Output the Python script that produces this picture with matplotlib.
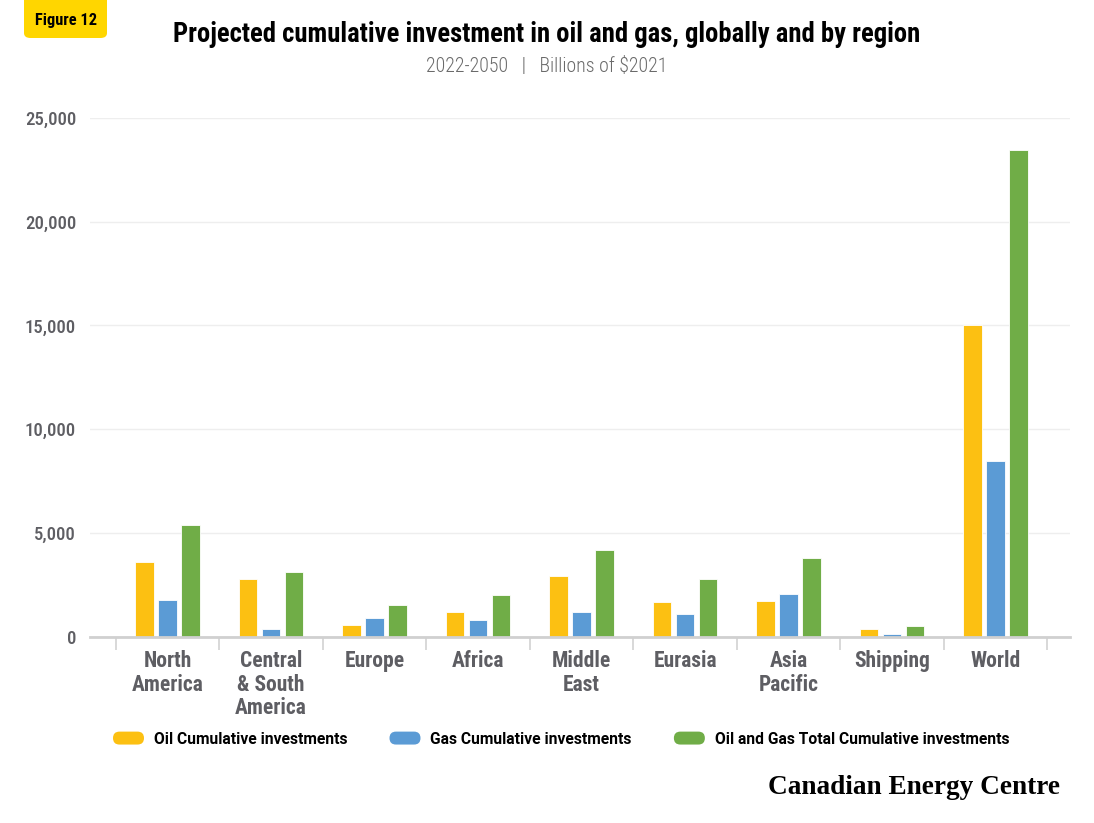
import numpy as np
import matplotlib.pyplot as plt
from matplotlib import font_manager as fm
from matplotlib.patches import FancyBboxPatch, Patch
from matplotlib.legend_handler import HandlerPatch

# =========================
# DATA (billions of $2021)
# =========================
regions = ["North\nAmerica", "Central\n& South\nAmerica", "Europe", "Africa",
           "Middle\nEast", "Eurasia", "Asia\nPacific", "Shipping", "World"]
oil = [3600, 2750, 570, 1170, 2910, 1680, 1730, 360, 15000]
gas = [1770, 350, 900, 800, 1200, 1070, 2040, 140, 8450]
total = [5390, 3120, 1510, 2010, 4150, 2780, 3780, 510, 23440]

series_names = ["Oil Cumulative investments", "Gas Cumulative investments",
                "Oil and Gas Total Cumulative investments"]
series_colors = ["#FCC012", "#5B9BD5", "#70AD47"]
yticks = [0, 5000, 10000, 15000, 20000, 25000]

GREY = "#5E5E63"
W, H = 1094, 823


def pick_narrow():
    # look for any condensed sans face that happens to be installed
    ents = fm.fontManager.ttflist
    names = {f.name for f in ents}
    for n in ["Roboto Condensed", "Liberation Sans Narrow", "Noto Sans ExtraCondensed",
              "Noto Sans Condensed", "Open Sans Condensed", "DejaVu Sans Condensed",
              "Noto Sans SemiCondensed"]:
        if n in names:
            return n, "normal"
    for n in ["Roboto", "Noto Sans", "Open Sans", "DejaVu Sans", "Liberation Sans"]:
        for f in ents:
            if f.name == n and str(f.stretch) in ("condensed", "extra-condensed",
                                                  "semi-condensed", "ultra-condensed"):
                return n, f.stretch
    return "DejaVu Sans", "normal"


NARROW, STRETCH = pick_narrow()


class HandlerPill(HandlerPatch):
    def create_artists(self, legend, orig_handle, xdescent, ydescent,
                       width, height, fontsize, trans):
        p = FancyBboxPatch((-xdescent, -ydescent), width, height,
                           boxstyle=f"round,pad=0,rounding_size={height / 2}",
                           facecolor=orig_handle.get_facecolor(),
                           edgecolor="none", transform=trans)
        return [p]


def fit(txt, target_px, renderer):
    # shrink / grow a text so it spans the same width as in the reference
    w = txt.get_window_extent(renderer).width
    txt.set_fontsize(txt.get_fontsize() * target_px / w)
    return txt.get_fontsize()


def measure_size(fig, renderer, s, target_px, **kw):
    t = fig.text(0, 0, s, fontsize=10, **kw)
    size = fit(t, target_px, renderer)
    t.remove()
    return size


def main():
    fig = plt.figure(figsize=(W / 100, H / 100), dpi=100)
    renderer = fig.canvas.get_renderer()
    ax = fig.add_axes([90 / W, 1 - 636.5 / H, 980 / W, 518.5 / H])

    narrow = dict(family=NARROW, fontstretch=STRETCH)

    x = np.arange(len(regions))
    bw = 0.18
    step = 0.223
    for k, (vals, col) in enumerate(zip([oil, gas, total], series_colors)):
        ax.bar(x + (k - 1) * step, vals, width=bw, color=col,
               edgecolor="white", linewidth=0.6, zorder=3)

    ax.set_ylim(0, 25000)
    ax.set_xlim(-0.75, len(regions) - 0.28)

    ax.set_yticks(yticks)
    ax.set_yticklabels([f"{v:,}" for v in yticks], fontsize=13.5,
                       fontweight="medium", color=GREY, **narrow)
    ax.tick_params(axis="y", length=0, pad=14 * 72 / 100)
    ax.yaxis.grid(True, color="#EEEEEE", linewidth=1, zorder=0)
    ax.set_axisbelow(True)

    ax.set_xticks(x)
    ax.set_xticklabels(regions, fontsize=15.5, fontweight="bold", color=GREY,
                       linespacing=1.08, **narrow)
    ax.set_xticks(np.arange(len(regions) + 1) - 0.5, minor=True)
    ax.tick_params(axis="x", which="major", length=0, pad=10)
    ax.tick_params(axis="x", which="minor", length=9.5, width=1.3,
                   color="#D6D6D6")

    for s in ["top", "right", "left"]:
        ax.spines[s].set_visible(False)
    ax.spines["bottom"].set_color("#D0D0D0")
    ax.spines["bottom"].set_linewidth(2)
    ax.spines["bottom"].set_zorder(4)

    # title block
    title = fig.text(547 / W, 1 - 34 / H,
                     "Projected cumulative investment in oil and gas, globally and by region",
                     ha="center", va="center", fontsize=20, fontweight="bold",
                     color="black", **narrow)
    fit(title, 745, renderer)
    sub = fig.text(547 / W, 1 - 66 / H, "2022-2050   |   Billions of $2021",
                   ha="center", va="center", fontsize=15, fontweight="light",
                   color="#6A6A6A", **narrow)
    fit(sub, 243, renderer)

    # badge
    badge = FancyBboxPatch((24 / W, 1 - 38 / H), 83 / W, 50 / H,
                           boxstyle="round,pad=0,rounding_size=0.006",
                           transform=fig.transFigure, facecolor="#FFD600",
                           edgecolor="none")
    fig.patches.append(badge)
    ftxt = fig.text(66 / W, 1 - 20 / H, "Figure 12", ha="center", va="center",
                    fontsize=10, fontweight="bold", color="black", **narrow)
    fit(ftxt, 62, renderer)

    # legend
    lfont = {"family": "Roboto", "weight": "bold"}
    lsize = measure_size(fig, renderer, series_names[0], 194, **lfont)
    px = lsize * 100 / 72
    handles = [Patch(facecolor=c, label=n)
               for c, n in zip(series_colors, series_names)]
    fig.legend(handles=handles, loc="center left",
               bbox_to_anchor=(113 / W, 1 - 739 / H), ncol=3, frameon=False,
               borderpad=0, borderaxespad=0, handlelength=31 / px,
               handleheight=14 / px, handletextpad=10 / px,
               columnspacing=42 / px,
               handler_map={Patch: HandlerPill()},
               prop={**lfont, "size": lsize})

    # source logo
    logo = fig.text(1060 / W, 1 - 788 / H, "Canadian Energy Centre", ha="right",
                    va="center", family="Liberation Serif", fontweight="bold",
                    fontsize=20, color="black")
    fit(logo, 292, renderer)

    fig.savefig("out.png", dpi=100)


if __name__ == "__main__":
    main()
